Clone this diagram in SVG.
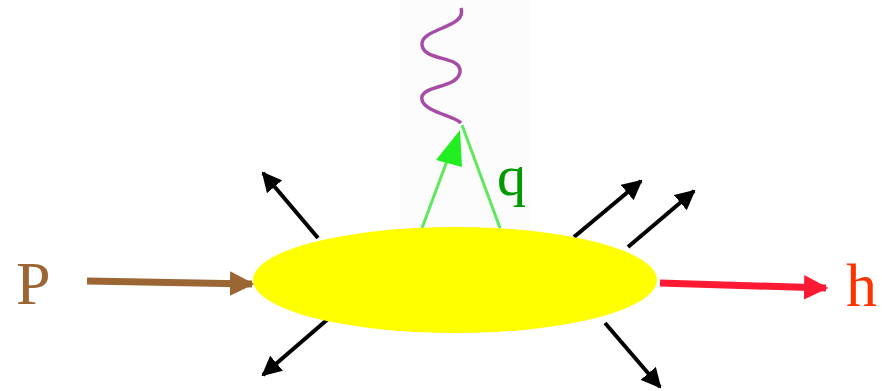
<svg xmlns="http://www.w3.org/2000/svg" width="882" height="391" viewBox="0 0 882 391">
<style>
.blk{stroke:#000;stroke-width:4;fill:none}
.lbl{font-family:"Liberation Serif",serif}
</style>
<defs>
<marker id="ah" viewBox="0 0 10 10" refX="9" refY="5" markerWidth="5" markerHeight="5" orient="auto" markerUnits="strokeWidth"><path d="M0,0L10,5L0,10z" fill="#000"/></marker>
<marker id="ahb" viewBox="0 0 10 10" refX="9" refY="5" markerWidth="3.5" markerHeight="3.5" orient="auto" markerUnits="strokeWidth"><path d="M0,0L10,5L0,10z" fill="#9b6633"/></marker>
<marker id="ahr" viewBox="0 0 10 10" refX="9" refY="5" markerWidth="3.5" markerHeight="3.5" orient="auto" markerUnits="strokeWidth"><path d="M0,0L10,5L0,10z" fill="#ff1a33"/></marker>
</defs>
<rect width="882" height="391" fill="#fff"/>
<rect x="400" y="0" width="130" height="230" fill="#fcfcfc"/>
<g id="connectors">
<path class="blk" d="M318,238L263,173" marker-end="url(#ah)"/>
<path class="blk" d="M574,237L641,181" marker-end="url(#ah)"/>
<path class="blk" d="M628,247L694,191" marker-end="url(#ah)"/>
<path class="blk" d="M328,319L263,375" marker-end="url(#ah)"/>
<path class="blk" d="M605,323L660,387" marker-end="url(#ah)"/>
<path d="M87,281L252,284" stroke="#9b6633" stroke-width="7" fill="none" marker-end="url(#ahb)"/>
<path d="M660,283L826,288" stroke="#ff1a33" stroke-width="7" fill="none" marker-end="url(#ahr)"/>
</g>
<g id="photon">
<path d="M461,8C468,28 420,28 422,45C424,62 462,55 460,72C458,89 418,85 422,100C425,112 455,116 461,123" stroke="#a64ca6" stroke-width="3.5" fill="none"/>
<path d="M422,228L453,145M462,125L500,228" stroke="#5ee85e" stroke-width="3" fill="none"/>
<path d="M460,130L462,167L436,160z" fill="#22ee22"/>
</g>
<g id="blob">
<ellipse cx="455" cy="280" rx="202" ry="53" fill="#ffff00"/>
</g>
<g id="labels">
<text class="lbl" x="16" y="304" font-size="62" fill="#9b6633">P</text>
<text class="lbl" x="846" y="306" font-size="62" fill="#ff3300">h</text>
<text class="lbl" x="497" y="195" font-size="58" fill="#009900">q</text>
</g>
</svg>
